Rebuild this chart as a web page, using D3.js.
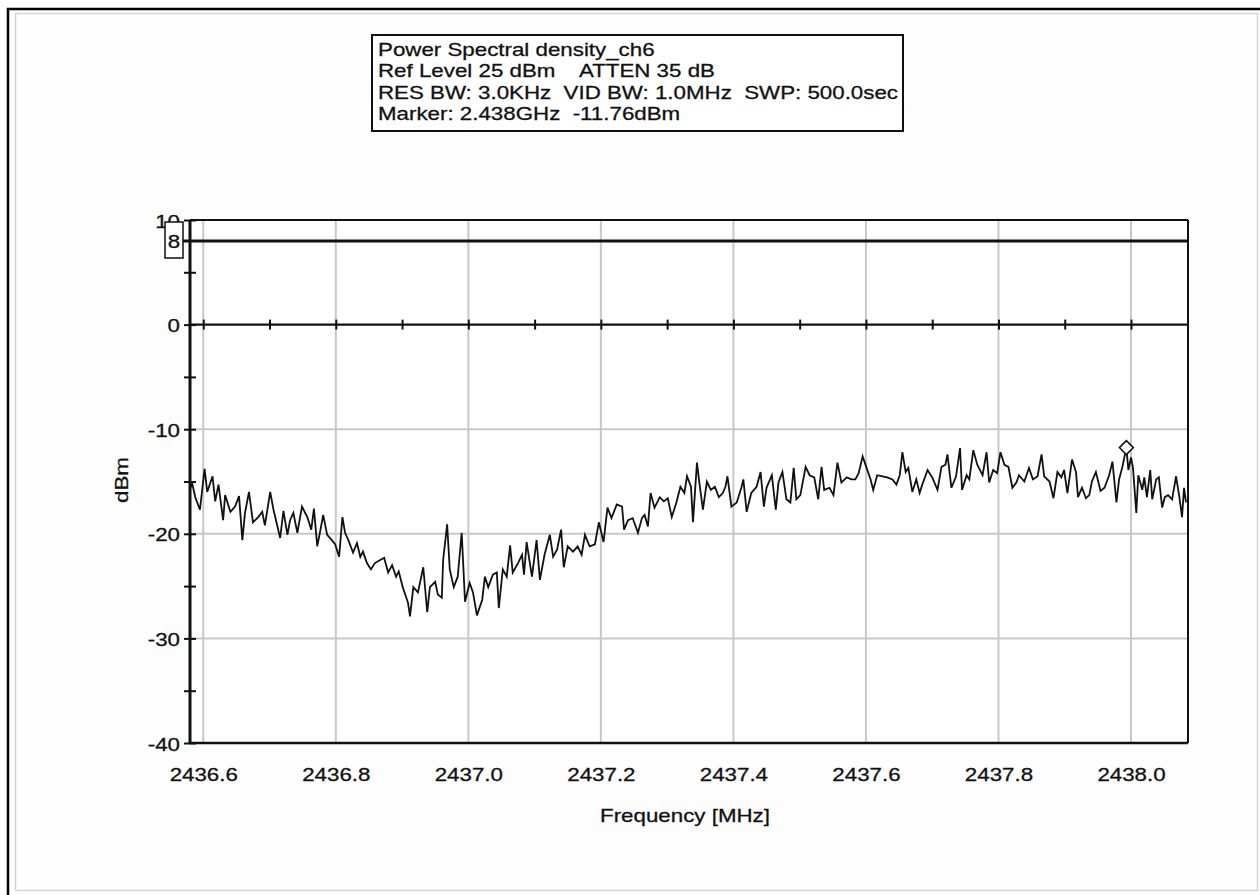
<!DOCTYPE html>
<html>
<head>
<meta charset="utf-8">
<script src="https://cdn.jsdelivr.net/npm/d3@7"></script>
<style>
  body { margin: 0; background: #fff; }
  svg { display: block; }
  text { font-family: "Liberation Sans", Arial, sans-serif; fill: #111; stroke: #111; stroke-width: 0.3px; }
</style>
</head>
<body>
<svg id="chart" width="1260" height="895"></svg>
<script>
// Spectrum trace: frequency (MHz) and level (dBm)
const freqMHz = [
  2436.580, 2436.583, 2436.588, 2436.595, 2436.602, 2436.606, 2436.614, 2436.618, 2436.623, 2436.630,
  2436.633, 2436.641, 2436.648, 2436.654, 2436.659, 2436.663, 2436.669, 2436.675, 2436.683, 2436.689,
  2436.693, 2436.701, 2436.706, 2436.712, 2436.716, 2436.721, 2436.727, 2436.731, 2436.736, 2436.742,
  2436.749, 2436.757, 2436.763, 2436.767, 2436.772, 2436.776, 2436.781, 2436.787, 2436.794, 2436.799,
  2436.805, 2436.810, 2436.814, 2436.819, 2436.826, 2436.832, 2436.837, 2436.841, 2436.847, 2436.853,
  2436.859, 2436.867, 2436.873, 2436.879, 2436.885, 2436.891, 2436.895, 2436.901, 2436.909, 2436.912,
  2436.917, 2436.924, 2436.932, 2436.938, 2436.942, 2436.950, 2436.954, 2436.960, 2436.962, 2436.968,
  2436.972, 2436.978, 2436.984, 2436.990, 2436.995, 2437.002, 2437.007, 2437.013, 2437.021, 2437.025,
  2437.030, 2437.037, 2437.043, 2437.046, 2437.052, 2437.058, 2437.063, 2437.067, 2437.075, 2437.081,
  2437.084, 2437.088, 2437.096, 2437.103, 2437.108, 2437.115, 2437.123, 2437.128, 2437.134, 2437.140,
  2437.144, 2437.150, 2437.158, 2437.165, 2437.171, 2437.176, 2437.183, 2437.191, 2437.197, 2437.204,
  2437.210, 2437.216, 2437.224, 2437.232, 2437.235, 2437.241, 2437.248, 2437.256, 2437.262, 2437.266,
  2437.271, 2437.275, 2437.281, 2437.289, 2437.295, 2437.301, 2437.307, 2437.314, 2437.320, 2437.326,
  2437.330, 2437.336, 2437.339, 2437.345, 2437.348, 2437.354, 2437.360, 2437.366, 2437.372, 2437.378,
  2437.384, 2437.388, 2437.391, 2437.397, 2437.405, 2437.412, 2437.415, 2437.420, 2437.427, 2437.435,
  2437.441, 2437.446, 2437.450, 2437.458, 2437.464, 2437.468, 2437.474, 2437.480, 2437.486, 2437.491,
  2437.495, 2437.501, 2437.509, 2437.515, 2437.522, 2437.528, 2437.533, 2437.537, 2437.545, 2437.551,
  2437.557, 2437.563, 2437.571, 2437.578, 2437.584, 2437.589, 2437.595, 2437.601, 2437.607, 2437.611,
  2437.617, 2437.625, 2437.632, 2437.640, 2437.646, 2437.651, 2437.655, 2437.660, 2437.664, 2437.670,
  2437.676, 2437.681, 2437.685, 2437.693, 2437.700, 2437.708, 2437.714, 2437.720, 2437.723, 2437.729,
  2437.736, 2437.742, 2437.745, 2437.752, 2437.756, 2437.762, 2437.768, 2437.776, 2437.782, 2437.786,
  2437.792, 2437.798, 2437.803, 2437.809, 2437.815, 2437.821, 2437.827, 2437.831, 2437.839, 2437.846,
  2437.852, 2437.859, 2437.865, 2437.869, 2437.877, 2437.883, 2437.889, 2437.895, 2437.899, 2437.904,
  2437.911, 2437.917, 2437.920, 2437.926, 2437.932, 2437.937, 2437.941, 2437.947, 2437.954, 2437.960,
  2437.967, 2437.972, 2437.978, 2437.982, 2437.987, 2437.993, 2437.996, 2438.000, 2438.003, 2438.008,
  2438.011, 2438.017, 2438.020, 2438.024, 2438.029, 2438.032, 2438.038, 2438.042, 2438.047, 2438.051,
  2438.056, 2438.062, 2438.068, 2438.073, 2438.077, 2438.080, 2438.083
];
const levelDbm = [
  -15.8, -15.1, -16.5, -17.7, -13.8, -16.0, -14.5, -16.9, -15.3, -18.7,
  -16.3, -17.9, -17.4, -16.4, -20.6, -18.0, -16.0, -18.9, -18.4, -17.9,
  -19.2, -16.0, -17.7, -19.3, -20.4, -17.8, -20.1, -18.7, -18.0, -19.9,
  -17.4, -18.4, -19.6, -17.6, -21.2, -19.9, -18.2, -20.1, -20.6, -21.0,
  -22.2, -18.4, -19.9, -20.6, -21.8, -20.9, -22.2, -21.7, -22.8, -23.4,
  -22.8, -22.5, -22.3, -23.7, -23.0, -24.1, -23.6, -25.1, -26.6, -27.9,
  -25.1, -25.6, -23.2, -27.5, -25.1, -24.6, -25.8, -26.1, -22.5, -19.1,
  -23.4, -25.1, -24.1, -19.9, -26.5, -24.7, -25.6, -27.8, -26.3, -24.1,
  -25.1, -23.9, -23.7, -27.1, -23.4, -24.1, -21.1, -23.7, -22.8, -22.0,
  -23.9, -20.8, -24.1, -20.6, -24.4, -22.0, -20.1, -22.2, -21.5, -19.6,
  -23.2, -21.2, -21.7, -21.2, -22.0, -20.1, -21.2, -21.0, -18.9, -20.8,
  -17.5, -18.5, -17.2, -17.4, -19.6, -18.7, -18.5, -19.9, -18.5, -18.2,
  -19.3, -16.1, -17.5, -16.5, -16.9, -16.6, -18.4, -17.0, -15.5, -16.1,
  -14.5, -15.5, -18.9, -13.2, -14.8, -17.7, -15.0, -15.8, -15.5, -16.5,
  -16.1, -15.5, -14.5, -17.4, -17.0, -15.6, -14.8, -17.9, -16.1, -15.5,
  -14.1, -17.4, -15.6, -14.4, -17.7, -15.1, -14.1, -16.7, -17.0, -13.7,
  -16.7, -16.3, -13.6, -14.4, -14.6, -16.7, -13.6, -15.8, -15.6, -16.3,
  -13.2, -15.1, -14.6, -14.8, -14.8, -14.2, -12.6, -13.7, -14.8, -15.8,
  -14.4, -14.5, -14.6, -14.8, -15.3, -14.4, -12.2, -14.1, -13.7, -16.0,
  -14.8, -16.1, -15.3, -13.9, -14.6, -15.8, -13.6, -13.4, -12.4, -15.6,
  -14.5, -11.8, -15.8, -14.4, -14.8, -12.0, -13.4, -14.4, -12.2, -15.1,
  -13.9, -14.2, -12.2, -13.4, -13.6, -15.6, -15.1, -14.4, -15.0, -13.7,
  -14.8, -14.5, -12.4, -14.5, -15.0, -16.6, -14.1, -14.6, -13.9, -16.1,
  -12.9, -14.1, -16.5, -15.6, -16.6, -16.3, -15.0, -14.1, -15.9, -15.6,
  -14.4, -13.1, -17.0, -14.8, -13.6, -11.76, -13.9, -12.7, -13.7, -18.0,
  -14.4, -15.8, -14.6, -16.5, -13.9, -16.7, -14.8, -14.6, -17.5, -16.5,
  -16.3, -16.7, -14.5, -16.5, -18.4, -15.6, -17.0
];

// Axis settings
const freqSpan = [2436.58, 2438.086];
const levelSpan = [-40, 10];
const freqGrid = [2436.6, 2436.8, 2437.0, 2437.2, 2437.4, 2437.6, 2437.8, 2438.0];
const freqTickLabels = ["2436.6", "2436.8", "2437.0", "2437.2", "2437.4", "2437.6", "2437.8", "2438.0"];
const zeroLineTicks = [2436.6, 2436.7, 2436.8, 2436.9, 2437.0, 2437.1, 2437.2, 2437.3,
                       2437.4, 2437.5, 2437.6, 2437.7, 2437.8, 2437.9, 2438.0];
const levelLabels = [-40, -30, -20, -10, 0, 10];
const levelTicks = [-40, -35, -30, -25, -20, -15, -10, -5, 0, 5, 10];
const levelGrid = [-30, -20, -10];
const limitLevel = 8;
const markerFreq = 2437.993;
const markerLevel = -11.76;
const headerLines = [
  "Power Spectral density_ch6",
  "Ref Level 25 dBm    ATTEN 35 dB",
  "RES BW: 3.0KHz  VID BW: 1.0MHz  SWP: 500.0sec",
  "Marker: 2.438GHz  -11.76dBm"
];
const xTitle = "Frequency [MHz]";
const yTitle = "dBm";

// Layout
const plot = { left: 190, right: 1188, top: 220, bottom: 743 };
const FONT = 19;
const SX = 1.175;   // wide screen font

const svg = d3.select("#chart");

const x = d3.scaleLinear().domain(freqSpan).range([plot.left, plot.right]);
const y = d3.scaleLinear().domain(levelSpan).range([plot.bottom, plot.top]);

// Outer window frame
svg.append("rect").attr("x", 8).attr("y", 9).attr("width", 1270).attr("height", 900)
  .attr("fill", "#fff").attr("stroke", "#000").attr("stroke-width", 2.5);
svg.append("rect").attr("x", 15.5).attr("y", 13.5).attr("width", 1242).attr("height", 877)
  .attr("fill", "#fdfdfd").attr("stroke", "#d4d4d4").attr("stroke-width", 1.5);

function wideText(parent, px, py, str, anchor, size) {
  return parent.append("text")
    .attr("transform", `translate(${px},${py}) scale(${SX},1)`)
    .attr("text-anchor", anchor || "start")
    .attr("font-size", size || FONT)
    .text(str);
}

// Plot background
svg.append("rect").attr("x", plot.left).attr("y", plot.top)
  .attr("width", plot.right - plot.left).attr("height", plot.bottom - plot.top)
  .attr("fill", "#fff");

// Grid
const grid = svg.append("g").attr("stroke", "#c8c8c8").attr("stroke-width", 2);
grid.selectAll("line.v").data(freqGrid).join("line").attr("class", "v")
  .attr("x1", d => x(d)).attr("x2", d => x(d))
  .attr("y1", plot.top).attr("y2", plot.bottom);
grid.selectAll("line.h").data(levelGrid).join("line").attr("class", "h")
  .attr("x1", plot.left).attr("x2", plot.right)
  .attr("y1", d => y(d)).attr("y2", d => y(d));

// Trace
const line = d3.line().x(d => x(d[0])).y(d => y(d[1]));
svg.append("path")
  .datum(freqMHz.map((f, i) => [f, levelDbm[i]]))
  .attr("d", line)
  .attr("fill", "none").attr("stroke", "#111").attr("stroke-width", 1.8)
  .attr("stroke-linejoin", "miter");

// Frame of plot (top, right, bottom)
svg.append("line").attr("x1", plot.left).attr("x2", plot.right)
  .attr("y1", plot.top).attr("y2", plot.top).attr("stroke", "#111").attr("stroke-width", 2);
svg.append("line").attr("x1", plot.right).attr("x2", plot.right)
  .attr("y1", plot.top).attr("y2", plot.bottom).attr("stroke", "#111").attr("stroke-width", 2);
svg.append("line").attr("x1", plot.left).attr("x2", plot.right)
  .attr("y1", plot.bottom).attr("y2", plot.bottom).attr("stroke", "#111").attr("stroke-width", 2.5);

// Zero reference line with frequency ticks
const zeroAxis = svg.append("g").attr("transform", `translate(0,${y(0)})`)
  .call(d3.axisBottom(x).tickValues(zeroLineTicks).tickSize(0).tickFormat(""));
zeroAxis.select(".domain").attr("stroke", "#111").attr("stroke-width", 2.2)
  .attr("d", `M${plot.left},0H${plot.right}`);
zeroAxis.selectAll(".tick line").attr("y1", -5).attr("y2", 5)
  .attr("stroke", "#111").attr("stroke-width", 2);

// Limit line
svg.append("line").attr("x1", 183).attr("x2", plot.right)
  .attr("y1", y(limitLevel)).attr("y2", y(limitLevel))
  .attr("stroke", "#111").attr("stroke-width", 3);

// Left axis: crossing ticks
const yTickAxis = svg.append("g").attr("transform", `translate(${plot.left},0)`)
  .call(d3.axisLeft(y).tickValues(levelTicks).tickSize(0).tickFormat(""));
yTickAxis.select(".domain").attr("stroke", "#111").attr("stroke-width", 3)
  .attr("d", `M0,${plot.top}V${plot.bottom}`);
yTickAxis.selectAll(".tick line").attr("x1", -6).attr("x2", 6)
  .attr("stroke", "#111").attr("stroke-width", 2);

// Left axis labels (plain hyphen minus)
const yLabelAxis = svg.append("g").attr("transform", `translate(${plot.left},0)`)
  .call(d3.axisLeft(y).tickValues(levelLabels).tickSize(0).tickPadding(0).tickFormat(d => String(d)));
yLabelAxis.select(".domain").remove();
yLabelAxis.selectAll(".tick text")
  .attr("x", 0).attr("dy", null).attr("y", 7)
  .attr("font-size", FONT).attr("font-family", null)
  .attr("fill", "#111")
  .attr("transform", `translate(-10,0) scale(${SX},1)`);

// Bottom axis labels
const xLabelAxis = svg.append("g").attr("transform", `translate(0,${plot.bottom})`)
  .call(d3.axisBottom(x).tickValues(freqGrid).tickSize(0).tickPadding(0)
    .tickFormat((d, i) => freqTickLabels[i]));
xLabelAxis.select(".domain").remove();
xLabelAxis.selectAll(".tick text")
  .attr("dy", null).attr("y", 38)
  .attr("font-size", FONT).attr("font-family", null)
  .attr("fill", "#111")
  .attr("transform", `scale(${SX},1)`);

// Limit value tag
svg.append("rect").attr("x", 165).attr("y", 222).attr("width", 18).attr("height", 36)
  .attr("fill", "#fff").attr("stroke", "#111").attr("stroke-width", 1.5);
wideText(svg, 174, y(limitLevel) + 7, String(limitLevel), "middle");

// Marker
const mx = x(markerFreq), my = y(markerLevel);
svg.append("path")
  .attr("d", `M${mx},${my - 7}L${mx + 7},${my}L${mx},${my + 7}L${mx - 7},${my}Z`)
  .attr("fill", "#fff").attr("stroke", "#111").attr("stroke-width", 1.5);

// Axis titles
wideText(svg, 685, 822, xTitle, "middle");
svg.append("text")
  .attr("transform", `translate(128,480) rotate(-90) scale(${SX},1)`)
  .attr("text-anchor", "middle").attr("font-size", FONT)
  .text(yTitle);

// Header box
svg.append("rect").attr("x", 372).attr("y", 35).attr("width", 531).attr("height", 96)
  .attr("fill", "#fff").attr("stroke", "#111").attr("stroke-width", 2);
headerLines.forEach((t, i) => {
  wideText(svg, 378, 56 + i * 21.3, t, "start").style("white-space", "pre");
});
</script>
</body>
</html>
